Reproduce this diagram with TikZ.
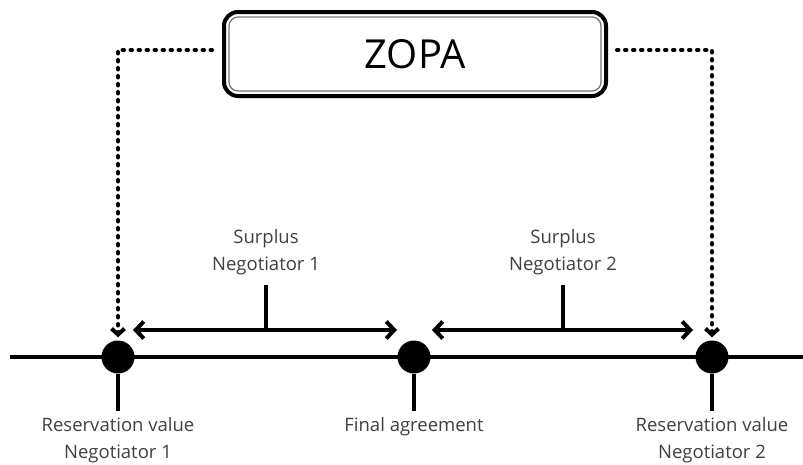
\documentclass[tikz,border=0pt]{standalone}
\usepackage{fontspec}
\setmainfont{Open Sans}
\usetikzlibrary{arrows.meta,positioning}

\begin{document}
\begin{tikzpicture}[
        x=1pt, y=-1pt,
        every node/.style={inner sep=0pt},
        dotnode/.style={circle, fill=black, minimum size=33pt},
        caption/.style={align=center, text=black!75, font=\fontsize{18.5}{27}\selectfont},
        axis/.style={line width=3.5pt},
        stem/.style={line width=3.5pt},
        tick/.style={line width=4pt},
        span/.style={line width=4pt, {Straight Barb[length=8pt,width=17pt]}-{Straight Barb[length=8pt,width=17pt]}},
        pointer/.style={line width=4pt, line cap=round, dash pattern=on 1.5pt off 6.5pt, -{Straight Barb[length=6pt,width=13pt]}}
    ]
    \useasboundingbox (0,0) rectangle (803,464);
    \node[draw, line width=4pt, rounded corners=14pt, minimum width=382pt, minimum height=84pt, font=\fontsize{40}{48}\selectfont] (zopa) at (415,54) {ZOPA};
    \draw[black!55, line width=1.2pt, rounded corners=9pt] ([xshift=7pt,yshift=-7pt]zopa.north west) rectangle ([xshift=-7pt,yshift=7pt]zopa.south east);

    \draw[axis] (10,357) -- (803,357);
    \node[dotnode] (rv1) at (118,357) {};
    \node[dotnode] (fa) at (414,357) {};
    \node[dotnode] (rv2) at (712,357) {};

    \node[caption, below=44pt of rv1] (rv1lab) {Reservation value\\Negotiator 1};
    \node[caption, below=44pt of fa] (falab) {Final agreement};
    \node[caption, below=44pt of rv2] (rv2lab) {Reservation value\\Negotiator 2};
    \draw[stem] (rv1) -- ([yshift=7pt]rv1lab.north);
    \draw[stem] (fa) -- ([yshift=7pt]falab.north);
    \draw[stem] (rv2) -- ([yshift=7pt]rv2lab.north);

    \node[caption, anchor=south] (sur1) at (266,275) {Surplus\\Negotiator 1};
    \node[caption, anchor=south] (sur2) at (563,275) {Surplus\\Negotiator 2};
    \draw[span] ([xshift=15pt,yshift=27pt]rv1.center) -- ([xshift=-17pt,yshift=27pt]fa.center);
    \draw[span] ([xshift=18pt,yshift=27pt]fa.center) -- ([xshift=-19pt,yshift=27pt]rv2.center);
    \draw[tick] ([yshift=-10pt]sur1.south) -- ++(0,45);
    \draw[tick] ([yshift=-10pt]sur2.south) -- ++(0,45);

    \draw[pointer] ([xshift=-10pt,yshift=4pt]zopa.west) -| ([yshift=3pt]rv1.north);
    \draw[pointer] ([xshift=9pt,yshift=4pt]zopa.east) -| ([yshift=3pt]rv2.north);
\end{tikzpicture}
\end{document}
